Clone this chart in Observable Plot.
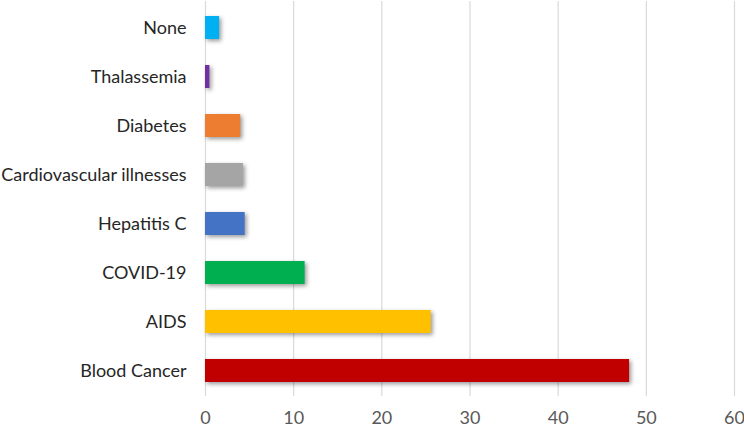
<!DOCTYPE html>
<html>
<head>
<meta charset="utf-8">
<script src="https://cdn.jsdelivr.net/npm/d3@7"></script>
<script src="https://cdn.jsdelivr.net/npm/@observablehq/plot@0.6"></script>
<style>
  html, body { margin: 0; padding: 0; background: #fff; }
</style>
</head>
<body>
<div id="chart"></div>
<script>
const categories = ["None", "Thalassemia", "Diabetes", "Cardiovascular illnesses", "Hepatitis C", "COVID-19", "AIDS", "Blood Cancer"];
const values = [1.6, 0.5, 4.0, 4.3, 4.5, 11.3, 25.6, 48.1];
const colors = ["#00b0f0", "#7030a0", "#ed7d31", "#a5a5a5", "#4472c4", "#00b050", "#ffc000", "#c00000"];
const xTicks = [0, 10, 20, 30, 40, 50, 60];

const data = categories.map((c, i) => ({category: c, value: values[i], color: colors[i]}));

const chart = Plot.plot({
  width: 744,
  height: 428,
  marginTop: 1,
  marginBottom: 32,
  marginLeft: 205,
  marginRight: 10,
  style: {fontFamily: "Lato, 'Open Sans', sans-serif", fontSize: "18px", color: "#404040", background: "#fff"},
  x: {domain: [0, 60], ticks: xTicks, label: null, grid: false},
  y: {domain: categories, paddingInner: 0.54, paddingOuter: 0.27, label: null},
  marks: [
    Plot.ruleX(xTicks, {stroke: "#d9d9d9", strokeWidth: 1.2, strokeOpacity: 1}),
    Plot.barX(data, {y: "category", x: "value", fill: "color"}),
    Plot.axisX({ticks: xTicks, tickSize: 0, tickPadding: 15, fontSize: 18, fill: "#595959"}),
    Plot.axisY({tickSize: 0, tickPadding: 19, fontSize: 18, fill: "#262626"})
  ]
});
d3.select(chart).selectAll('g[aria-label="bar"]')
  .style("filter", "drop-shadow(2px 2.5px 2px rgba(0,0,0,0.4))");
document.getElementById("chart").appendChild(chart);
</script>
</body>
</html>
